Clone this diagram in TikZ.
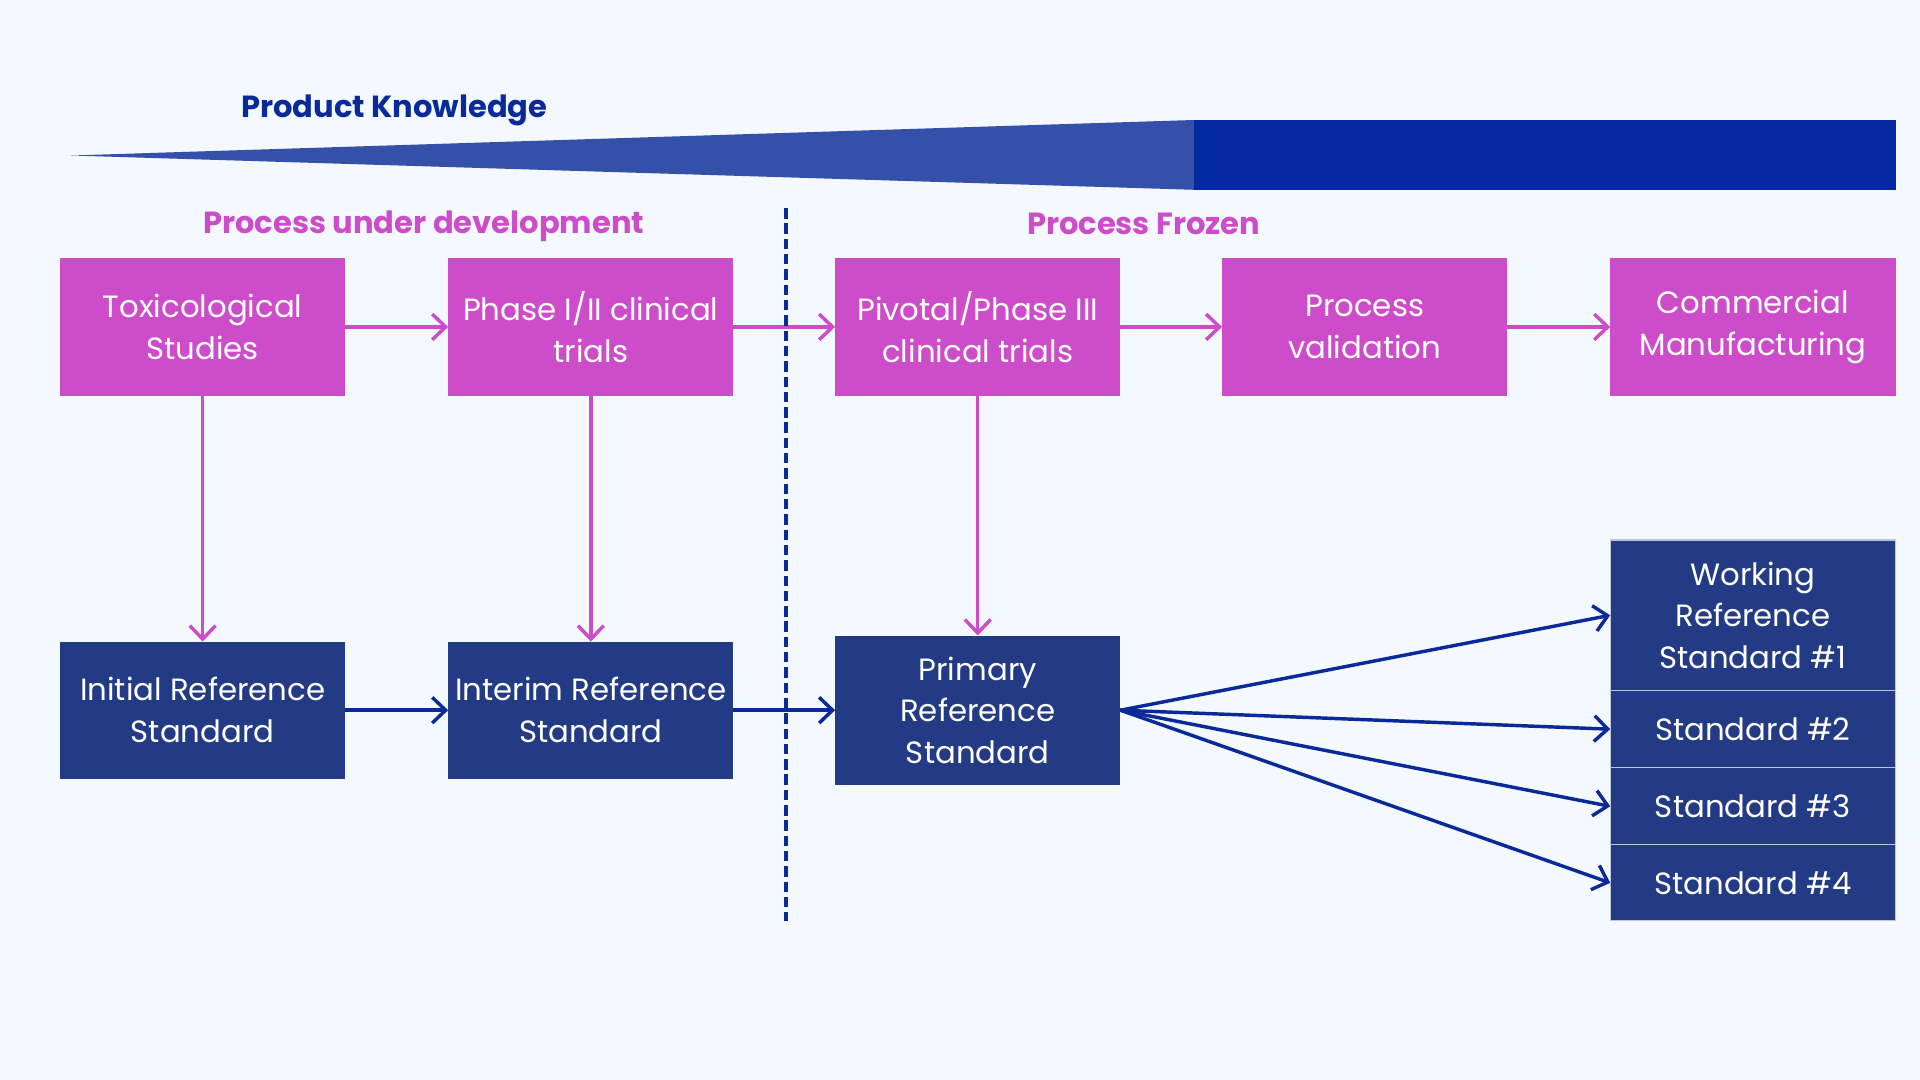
\documentclass[tikz,border=0pt]{standalone}
\usepackage{fontspec}
\setmainfont{Poppins}
\usetikzlibrary{arrows.meta}

\definecolor{bgcol}{HTML}{F4F8FF}
\definecolor{magcol}{HTML}{CC4CC9}
\definecolor{navbox}{HTML}{233A84}
\definecolor{navline}{HTML}{0A2A99}
\definecolor{trilight}{HTML}{3450A8}
\definecolor{bardark}{HTML}{0529A0}

\begin{document}
\begin{tikzpicture}[x=0.2mm,y=-0.2mm,inner sep=0pt,outer sep=0pt,
procbox/.style={rectangle,fill=magcol,text=white,align=center,minimum width=46.6mm,minimum height=22.4mm,font=\fontsize{14.3}{19.4}\selectfont},
refbox/.style={rectangle,fill=navbox,text=white,align=center,minimum width=46.6mm,minimum height=22.4mm,font=\fontsize{14.3}{19.4}\selectfont},
stdbox/.style={refbox,draw=white!70!navbox,line width=0.5pt},
heading/.style={font=\fontsize{14.2}{16}\selectfont\bfseries},
magarrow/.style={draw=magcol,line width=1.6pt,-{Straight Barb[length=2.2mm,width=4.2mm,line width=1.6pt]}},
navarrow/.style={draw=navline,line width=1.6pt,-{Straight Barb[length=2.2mm,width=4.2mm,line width=1.6pt]}}]

\fill[bgcol] (0,0) rectangle (1568,882);

% knowledge wedge
\fill[trilight] (58,127) -- (975,98) -- (975,155) -- cycle;
\fill[bardark] (975,98) rectangle (1548,155);
\node[heading,text=navline] (know) at (322,90) {Product Knowledge};

\node[heading,text=magcol] (devel) at (346,185) {Process under development};
\node[heading,text=magcol] (frozen) at (934,183) {Process Frozen};

% process steps
\draw (165.5,267) node[procbox] (tox) {Toxicological\\Studies};
\draw (482.5,267) node[procbox] (ph12) {Phase I/II clinical\\trials};
\draw (798.5,267) node[procbox] (ph3) {Pivotal/Phase III\\clinical trials};
\draw (1114.5,267) node[procbox] (valid) {Process\\validation};
\draw (1431.5,267) node[procbox] (comm) {Commercial\\Manufacturing};

% reference standards
\draw (165.5,580) node[refbox] (init) {Initial Reference\\Standard};
\draw (482.5,580) node[refbox] (inter) {Interim Reference\\Standard};
\draw (798.5,580) node[refbox,minimum height=24.4mm] (prim) {Primary\\Reference\\Standard};

\draw (1431.5,502.5) node[stdbox,minimum height=24.6mm] (work) {Working\\Reference\\Standard \#1};
\draw (1431.5,595.5) node[stdbox,minimum height=12.6mm] (std2) {Standard \#2};
\draw (1431.5,658.5) node[stdbox,minimum height=12.6mm] (std3) {Standard \#3};
\draw (1431.5,721) node[stdbox,minimum height=12.4mm] (std4) {Standard \#4};

\draw[magarrow] (tox) -- (ph12);
\draw[magarrow] (ph12) -- (ph3);
\draw[magarrow] (ph3) -- (valid);
\draw[magarrow] (valid) -- (comm);
\draw[magarrow] (tox) -- (init);
\draw[magarrow] (ph12) -- (inter);
\draw[magarrow] (ph3) -- (prim);

\draw[navarrow] (init) -- (inter);
\draw[navarrow] (inter) -- (prim);
\draw[navarrow] (prim.east) -- (work.west);
\draw[navarrow] (prim.east) -- (std2.west);
\draw[navarrow] (prim.east) -- (std3.west);
\draw[navarrow] (prim.east) -- (std4.west);

\draw[navline,line width=1.8pt,dash pattern=on 1.7mm off 0.8mm] (642,170) coordinate (dtop) -- (642,752) coordinate (dbot);
\end{tikzpicture}
\end{document}
